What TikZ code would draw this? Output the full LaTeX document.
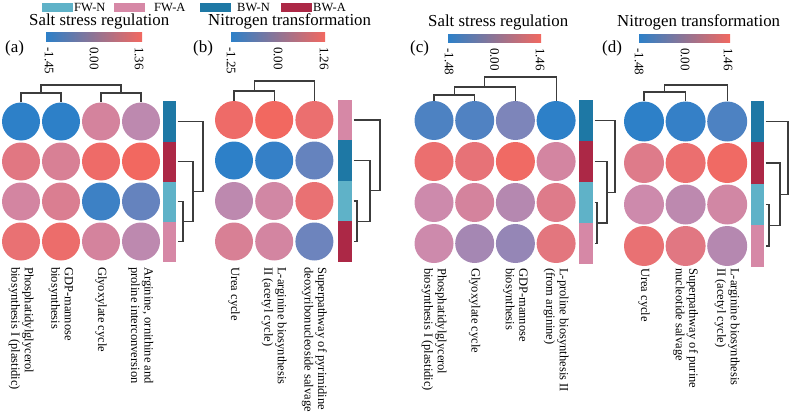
\documentclass[tikz,border=0pt]{standalone}
\usepackage{fontspec}
\setmainfont{Liberation Serif}
\usetikzlibrary{positioning}
\definecolor{lo}{RGB}{45,128,200}
\definecolor{md}{RGB}{205,138,172}
\definecolor{hi}{RGB}{242,104,96}
\definecolor{fwn}{RGB}{95,178,200}
\definecolor{fwa}{RGB}{214,136,166}
\definecolor{bwn}{RGB}{30,120,165}
\definecolor{bwa}{RGB}{172,40,70}
\definecolor{tree}{RGB}{60,60,60}

\begin{document}
\begin{tikzpicture}[x=1pt, y=-1pt,
  cell/.style={circle, minimum size=38pt, inner sep=0pt, outer sep=0pt},
  stripcell/.style={rectangle, minimum width=13pt, minimum height=40pt, inner sep=0pt, outer sep=1.5pt},
  branch/.style={draw=tree, line width=1.1pt},
  pathlabel/.style={rotate=-90, anchor=west, align=left, inner sep=1pt, font=\fontsize{12.5}{13.5}\selectfont},
  ticklabel/.style={rotate=-90, anchor=west, inner sep=1pt, font=\fontsize{13}{13}\selectfont},
  paneltitle/.style={anchor=base west, inner sep=0pt, text height=11.5pt, font=\fontsize{16.8}{17}\selectfont},
  panelletter/.style={anchor=base west, inner sep=0pt, font=\fontsize{17}{17}\selectfont},
  swatch/.style={rectangle, minimum width=31pt, minimum height=8.5pt, inner sep=0pt},
  keylabel/.style={anchor=base west, inner sep=0pt, text height=8.5pt, text depth=0pt, font=\fontsize{12.5}{13}\selectfont}]
\useasboundingbox (0,0) rectangle (791,417);

\node[swatch, fill=fwn] (k-fwn) at (57.5,7.5) {};
\node[keylabel] (t-fwn) at (74,11.7) {FW-N};
\node[swatch, fill=fwa] (k-fwa) at (129,7.5) {};
\node[keylabel] (t-fwa) at (154,11.7) {FW-A};
\node[swatch, fill=bwn] (k-bwn) at (215,7.5) {};
\node[keylabel] (t-bwn) at (237,11.7) {BW-N};
\node[swatch, fill=bwa] (k-bwa) at (296.5,7.5) {};
\node[keylabel] (t-bwa) at (313,11.7) {BW-A};

% (a)
\node[panelletter] (a-tag) at (5,53) {(a)};
\node[paneltitle] (a-title) at (29,25.5) {Salt stress regulation};
\shade[left color=lo, middle color=md, right color=hi] (46,33) rectangle (142,42);
\node[ticklabel] (a-min) at (49,46) {-1.45};
\node[ticklabel] (a-zero) at (94,46) {0.00};
\node[ticklabel] (a-max) at (139,46) {1.36};
\foreach \c [count=\k] in {lo, lo, hi!20!md, lo!10!md}
  \node[cell, fill=\c] (a1\k) at ({21+40*(\k-1)},121.5) {};
\foreach \c [count=\k] in {hi!55!md, hi!30!md, hi!90!md, hi}
  \node[cell, fill=\c] (a2\k) at ({21+40*(\k-1)},161.5) {};
\foreach \c [count=\k] in {hi!15!md, hi!35!md, lo!90!md, lo!65!md}
  \node[cell, fill=\c] (a3\k) at ({21+40*(\k-1)},201.5) {};
\foreach \c [count=\k] in {hi!75!md, hi!85!md, hi!20!md, lo!10!md}
  \node[cell, fill=\c] (a4\k) at ({21+40*(\k-1)},241.5) {};
\foreach \c [count=\r] in {bwn, bwa, fwn, fwa}
  \node[stripcell, fill=\c] (as\r) at (169.5,{121.5+40*(\r-1)}) {};
\foreach \t [count=\k] in {{Phosphatidylglycerol\\biosynthesis I (plastidic)}, {GDP-mannose\\biosynthesis}, {Glyoxylate cycle}, {Arginine, ornithine and\\proline interconversion}}
  \node[pathlabel] (ap\k) at ({21+40*(\k-1)},266) {\t};
\coordinate (a-c12) at (41,93);
\coordinate (a-c34) at (121,93);
\coordinate (a-top) at (81,85);
\draw[branch] (a11.north) |- (a-c12) -| (a12.north);
\draw[branch] (a13.north) |- (a-c34) -| (a14.north);
\draw[branch] (a-c12) |- (a-top) -| (a-c34);
\coordinate (a-r34) at (183,221.5);
\coordinate (a-r234) at (193,191.5);
\coordinate (a-rall) at (203,156.5);
\draw[branch] (as3.east) -| (a-r34) |- (as4.east);
\draw[branch] (as2.east) -| (a-r234) |- (a-r34);
\draw[branch] (as1.east) -| (a-rall) |- (a-r234);

% (b)
\node[panelletter] (b-tag) at (193,53) {(b)};
\node[paneltitle] (b-title) at (208,25.5) {Nitrogen transformation};
\shade[left color=lo, middle color=md, right color=hi] (231,33) rectangle (325,42);
\node[ticklabel] (b-min) at (231,46) {-1.25};
\node[ticklabel] (b-zero) at (278,46) {0.00};
\node[ticklabel] (b-max) at (324,46) {1.26};
\foreach \c [count=\k] in {hi!90!md, hi, hi!80!md}
  \node[cell, fill=\c] (b1\k) at ({234+40.2*(\k-1)},120) {};
\foreach \c [count=\k] in {lo, lo!95!md, lo!65!md}
  \node[cell, fill=\c] (b2\k) at ({234+40.2*(\k-1)},160.5) {};
\foreach \c [count=\k] in {lo!10!md, hi!10!md, hi!75!md}
  \node[cell, fill=\c] (b3\k) at ({234+40.2*(\k-1)},201) {};
\foreach \c [count=\k] in {hi!30!md, hi!15!md, lo!60!md}
  \node[cell, fill=\c] (b4\k) at ({234+40.2*(\k-1)},241.5) {};
\foreach \c [count=\r] in {fwa, bwn, fwn, bwa}
  \node[stripcell, fill=\c, minimum width=14pt, minimum height=40.5pt] (bs\r) at (345,{120+40.5*(\r-1)}) {};
\foreach \t [count=\k] in {{Urea cycle}, {L-arginine biosynthesis\\II (acetyl cycle)}, {Superpathway of pyrimidine\\deoxyribonucleoside salvage}}
  \node[pathlabel] (bp\k) at ({234+40.2*(\k-1)},266) {\t};
\coordinate (b-c12) at (254.1,91);
\coordinate (b-top) at (284.3,81);
\draw[branch] (b11.north) |- (b-c12) -| (b12.north);
\draw[branch] (b-c12) |- (b-top) -| (b13.north);
\coordinate (b-r34) at (357,221.25);
\coordinate (b-r234) at (370,190.9);
\coordinate (b-rall) at (380,155.4);
\draw[branch] (bs3.east) -| (b-r34) |- (bs4.east);
\draw[branch] (bs2.east) -| (b-r234) |- (b-r34);
\draw[branch] (bs1.east) -| (b-rall) |- (b-r234);

% (c)
\node[panelletter] (c-tag) at (410,53) {(c)};
\node[paneltitle] (c-title) at (428,26.5) {Salt stress regulation};
\shade[left color=lo, middle color=md, right color=hi] (448,35) rectangle (541,43);
\node[ticklabel] (c-min) at (449,47) {-1.48};
\node[ticklabel] (c-zero) at (494.5,47) {0.00};
\node[ticklabel] (c-max) at (540,47) {1.46};
\foreach \c [count=\k] in {lo!80!md, lo!78!md, lo!50!md, lo}
  \node[cell, fill=\c, minimum size=39pt] (c1\k) at ({434+40.7*(\k-1)},120.5) {};
\foreach \c [count=\k] in {hi!80!md, hi!70!md, hi!95!md, hi!15!md}
  \node[cell, fill=\c, minimum size=39pt] (c2\k) at ({434+40.7*(\k-1)},161.5) {};
\foreach \c [count=\k] in {md, hi!20!md, lo!15!md, hi!45!md}
  \node[cell, fill=\c, minimum size=39pt] (c3\k) at ({434+40.7*(\k-1)},202.5) {};
\foreach \c [count=\k] in {md, lo!25!md, lo!35!md, hi!60!md}
  \node[cell, fill=\c, minimum size=39pt] (c4\k) at ({434+40.7*(\k-1)},243.5) {};
\foreach \c [count=\r] in {bwn, bwa, fwn, fwa}
  \node[stripcell, fill=\c, minimum width=14pt, minimum height=41pt] (cs\r) at (586,{120.5+41*(\r-1)}) {};
\foreach \t [count=\k] in {{Phosphatidylglycerol\\biosynthesis I (plastidic)}, {Glyoxylate cycle}, {GDP-mannose\\biosynthesis}, {L-proline biosynthesis II\\(from arginine)}}
  \node[pathlabel] (cp\k) at ({434+40.7*(\k-1)},267) {\t};
\coordinate (c-c12) at (454.35,95);
\coordinate (c-c123) at (484.9,87);
\coordinate (c-top) at (520.5,77);
\draw[branch] (c11.north) |- (c-c12) -| (c12.north);
\draw[branch] (c-c12) |- (c-c123) -| (c13.north);
\draw[branch] (c-c123) |- (c-top) -| (c14.north);
\coordinate (c-r34) at (597,223);
\coordinate (c-r234) at (607,192.25);
\coordinate (c-rall) at (615,156.4);
\draw[branch] (cs3.east) -| (c-r34) |- (cs4.east);
\draw[branch] (cs2.east) -| (c-r234) |- (c-r34);
\draw[branch] (cs1.east) -| (c-rall) |- (c-r234);

% (d)
\node[panelletter] (d-tag) at (602,53) {(d)};
\node[paneltitle] (d-title) at (617,26.5) {Nitrogen transformation};
\shade[left color=lo, middle color=md, right color=hi] (639,35) rectangle (730,43);
\node[ticklabel] (d-min) at (639,47) {-1.48};
\node[ticklabel] (d-zero) at (685,47) {0.00};
\node[ticklabel] (d-max) at (728,47) {1.46};
\foreach \c [count=\k] in {lo, lo!95!md, lo!80!md}
  \node[cell, fill=\c, minimum size=40pt] (d1\k) at ({644+41.6*(\k-1)},121.5) {};
\foreach \c [count=\k] in {hi!45!md, hi!80!md, hi!95!md}
  \node[cell, fill=\c, minimum size=40pt] (d2\k) at ({644+41.6*(\k-1)},163) {};
\foreach \c [count=\k] in {md, lo!10!md, hi!10!md}
  \node[cell, fill=\c, minimum size=40pt] (d3\k) at ({644+41.6*(\k-1)},204.5) {};
\foreach \c [count=\k] in {hi!75!md, hi!55!md, lo!15!md}
  \node[cell, fill=\c, minimum size=40pt] (d4\k) at ({644+41.6*(\k-1)},246) {};
\foreach \c [count=\r] in {bwn, bwa, fwn, fwa}
  \node[stripcell, fill=\c, minimum height=41.5pt] (ds\r) at (757.5,{121.5+41.5*(\r-1)}) {};
\foreach \t [count=\k] in {{Urea cycle}, {Superpathway of purine\\nucleotide salvage}, {L-arginine biosynthesis\\II (acetyl cycle)}}
  \node[pathlabel] (dp\k) at ({644+41.6*(\k-1)},267) {\t};
\coordinate (d-c12) at (664.8,92);
\coordinate (d-top) at (696,85);
\draw[branch] (d11.north) |- (d-c12) -| (d12.north);
\draw[branch] (d-c12) |- (d-top) -| (d13.north);
\coordinate (d-r34) at (769,225.25);
\coordinate (d-r234) at (780,194.1);
\coordinate (d-rall) at (788,157.8);
\draw[branch] (ds3.east) -| (d-r34) |- (ds4.east);
\draw[branch] (ds2.east) -| (d-r234) |- (d-r34);
\draw[branch] (ds1.east) -| (d-rall) |- (d-r234);
\end{tikzpicture}
\end{document}
